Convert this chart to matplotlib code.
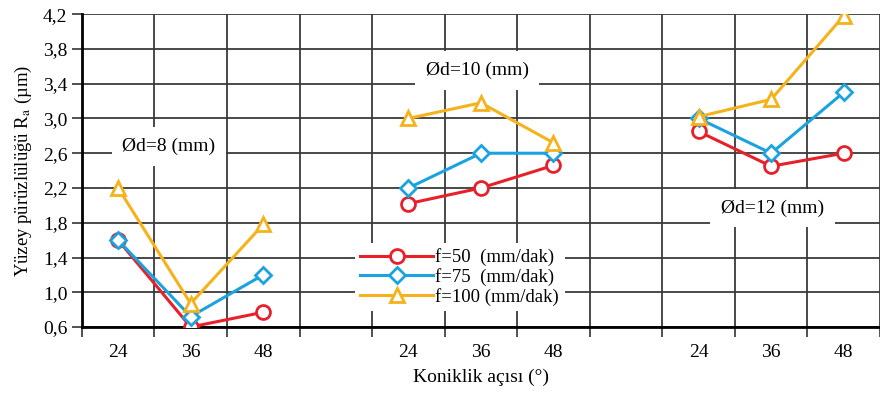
import matplotlib
matplotlib.use('Agg')
import matplotlib.pyplot as plt
from matplotlib.ticker import FixedLocator, FuncFormatter

plt.rcParams['font.family'] = ['Liberation Serif', 'DejaVu Serif']
plt.rcParams['mathtext.fontset'] = 'stix'

# data
angles = [24, 36, 48]
diameters = ['Ød=8 (mm)', 'Ød=10 (mm)', 'Ød=12 (mm)']
f50 = [[1.6, 0.6, 0.77], [2.02, 2.2, 2.46], [2.85, 2.45, 2.6]]
f75 = [[1.6, 0.72, 1.2], [2.2, 2.6, 2.6], [3.0, 2.6, 3.3]]
f100 = [[2.2, 0.87, 1.78], [3.0, 3.18, 2.72], [3.02, 3.22, 4.18]]
series_labels = ['f=50  (mm/dak)', 'f=75  (mm/dak)', 'f=100 (mm/dak)']
y_ticks = [0.6, 1.0, 1.4, 1.8, 2.2, 2.6, 3.0, 3.4, 3.8, 4.2]

colors = ['#e8202a', '#1ba3e0', '#f5b21a']
markers = ['o', 'D', '^']
msizes = [10, 8.5, 10]

group_start = [0, 4, 8]
n_cols = 11

fig = plt.figure(figsize=(8.8, 3.94), dpi=100)
ax = fig.add_axes([0.093, 0.170, 0.907, 0.794])

for s, (vals, col, mk, ms, lab) in enumerate(zip([f50, f75, f100], colors, markers, msizes, series_labels)):
    for g, start in enumerate(group_start):
        xs = [start + i + 0.5 for i in range(len(angles))]
        ax.plot(xs, vals[g], color=col, lw=2.2, marker=mk, ms=ms,
                mfc='white', mec=col, mew=2, zorder=5,
                label=lab if g == 0 else None)

ax.set_xlim(0, n_cols)
ax.set_ylim(0.6, 4.2)

# gridlines at column borders, labels at column centres
ax.xaxis.set_major_locator(FixedLocator(range(n_cols + 1)))
ax.xaxis.set_major_formatter(FuncFormatter(lambda v, p: ''))
centres = [start + i + 0.5 for start in group_start for i in range(len(angles))]
ax.xaxis.set_minor_locator(FixedLocator(centres))
ax.set_xticklabels([str(a) for a in angles] * len(group_start), minor=True)
ax.tick_params(axis='x', which='major', direction='out', length=7, width=1.2, color='#333333')
ax.tick_params(axis='x', which='minor', length=0, labelsize=14, pad=12)

ax.set_yticks(y_ticks)
ax.yaxis.set_major_formatter(FuncFormatter(lambda v, p: ('%.1f' % v).replace('.', ',')))
ax.tick_params(axis='y', direction='out', length=7, width=1.2, labelsize=14, color='#333333')

ax.grid(True, which='major', color='#3a3a3a', lw=1.3)
ax.set_axisbelow(True)
for side in ['top', 'right']:
    ax.spines[side].set_visible(False)
for side in ['left', 'bottom']:
    ax.spines[side].set_linewidth(2)
    ax.spines[side].set_color('black')

ax.set_xlabel('Koniklik açısı (°)', fontsize=14, labelpad=6)
ax.set_ylabel('Yüzey pürüzlülüğü R$_\\mathrm{a}$ (µm)', fontsize=13.5, labelpad=6)

box = dict(boxstyle='square,pad=0.55', fc='white', ec='none')
ax.text(1.2, 2.68, diameters[0], fontsize=14, ha='center', va='center', bbox=box, zorder=3)
ax.text(5.45, 3.55, diameters[1], fontsize=14, ha='center', va='center', bbox=box, zorder=3)
ax.text(9.52, 1.97, diameters[2], fontsize=14, ha='center', va='center', bbox=box, zorder=3)

leg = ax.legend(loc='lower left', bbox_to_anchor=(0.33, 0.02), fontsize=13.5,
                handlelength=3.9, handletextpad=0.1, labelspacing=0.1,
                borderpad=0.3, frameon=True, framealpha=1, fancybox=False)
leg.get_frame().set_edgecolor('none')
leg.set_zorder(6)

fig.savefig('out.png', dpi=100)
